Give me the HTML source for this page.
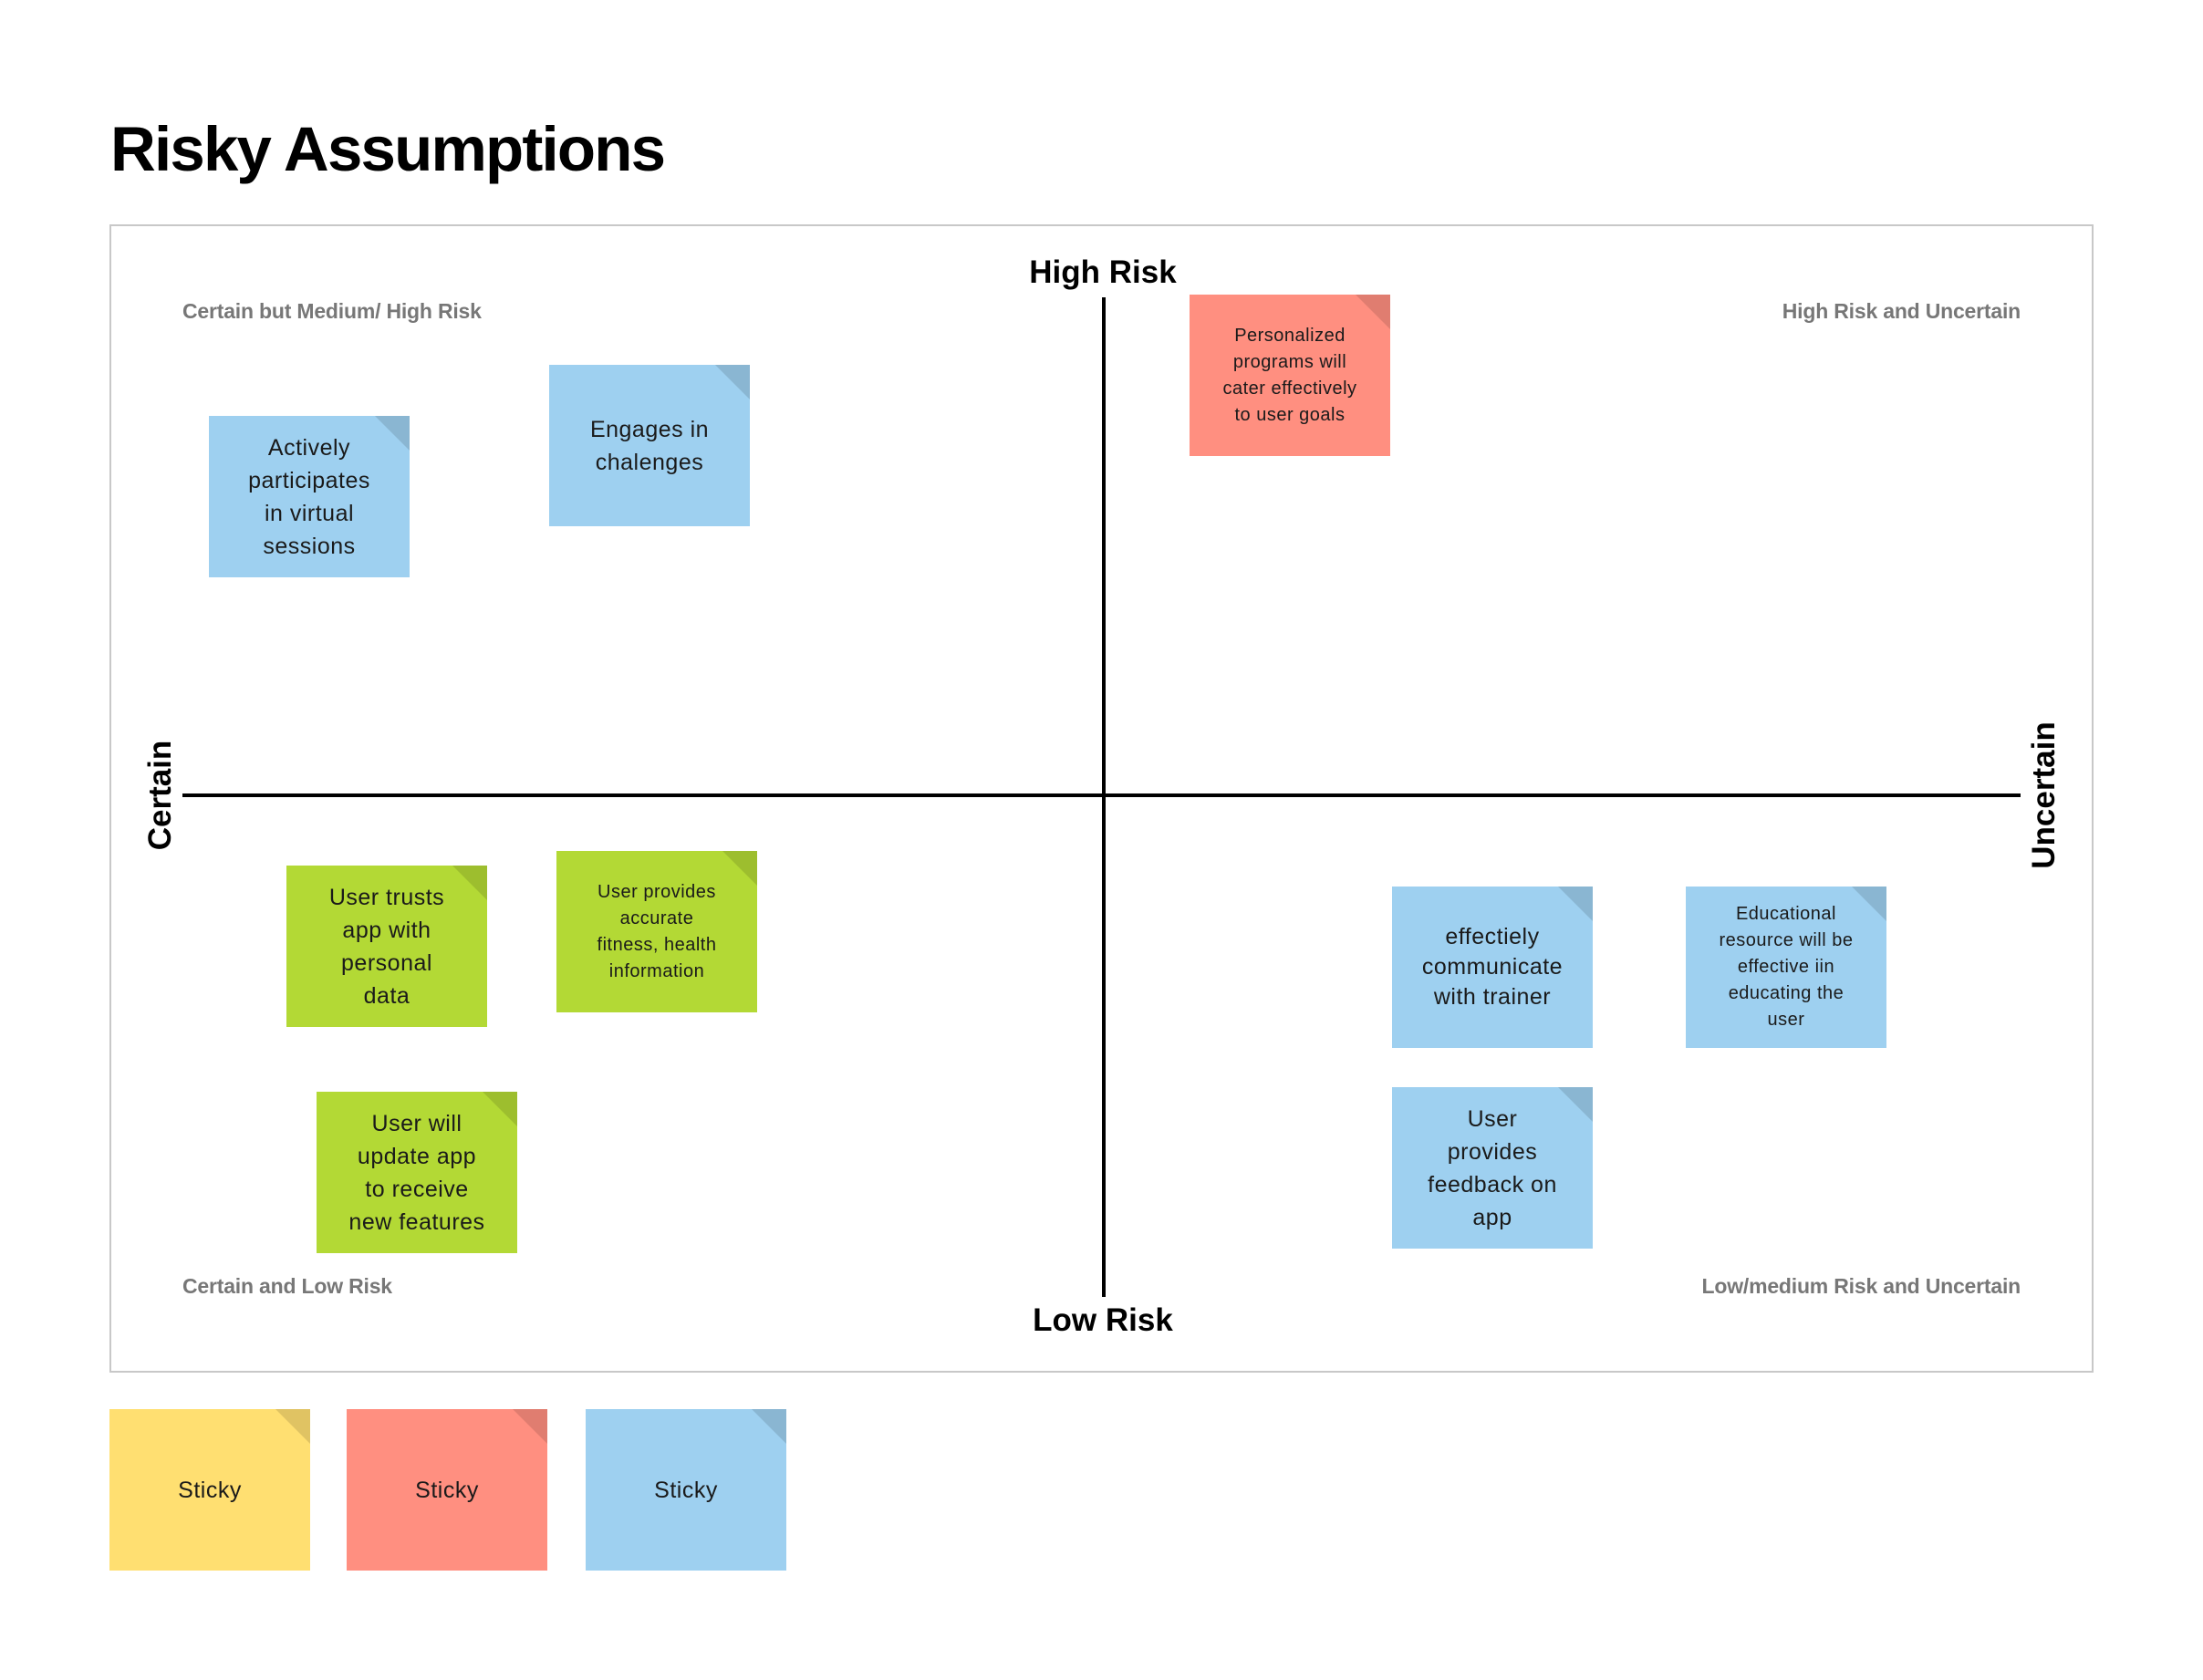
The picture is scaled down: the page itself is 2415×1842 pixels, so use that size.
<!DOCTYPE html>
<html><head><meta charset="utf-8"><style>
body{margin:0;width:2415px;height:1842px;background:#fff;position:relative;font-family:"Liberation Sans",sans-serif;overflow:hidden}
.a{position:absolute}
h1{position:absolute;left:121px;top:124px;margin:0;font-size:69px;font-weight:bold;letter-spacing:-1.8px;color:#000}
.frame{left:120px;top:246px;width:2171px;height:1255px;border:2px solid #c8c8c8}
.lbl{font-size:23px;color:#777;font-weight:bold;letter-spacing:-0.2px}
.ax{font-size:35px;font-weight:bold;color:#000;white-space:nowrap}
.s{position:absolute;width:220px;height:177px;display:flex;align-items:center;justify-content:center;text-align:center;font-size:25px;line-height:36px;color:#1a1a1a;letter-spacing:0.5px;box-sizing:border-box;padding:0 4px;white-space:nowrap}
.s::after{content:"";position:absolute;right:0;top:0;border-style:solid;border-width:0 38px 38px 0;border-color:transparent rgba(0,0,0,0.12) transparent transparent}
.sm{font-size:20px;line-height:29px}
.b{background:#9ed0f0}.r{background:#ff8f80}.g{background:#b3d935}.y{background:#ffdf71}
</style></head><body>
<h1>Risky Assumptions</h1>
<div class="a frame"></div>
<div class="a" style="left:1208px;top:326px;width:4px;height:1096px;background:#000"></div>
<div class="a" style="left:200px;top:870px;width:2015px;height:4px;background:#000"></div>
<div class="a ax" style="left:1109px;top:279px;width:200px;text-align:center">High Risk</div>
<div class="a ax" style="left:1109px;top:1428px;width:200px;text-align:center">Low Risk</div>
<div class="a ax" style="left:76px;top:852px;width:200px;text-align:center;transform:rotate(-90deg)">Certain</div>
<div class="a ax" style="left:2141px;top:852px;width:200px;text-align:center;transform:rotate(-90deg)">Uncertain</div>
<div class="a lbl" style="left:200px;top:328px">Certain but Medium/ High Risk</div>
<div class="a lbl" style="right:200px;top:328px">High Risk and Uncertain</div>
<div class="a lbl" style="left:200px;top:1397px">Certain and Low Risk</div>
<div class="a lbl" style="right:200px;top:1397px">Low/medium Risk and Uncertain</div>

<div class="s b" style="left:229px;top:456px">Actively<br>participates<br>in virtual<br>sessions</div>
<div class="s b" style="left:602px;top:400px">Engages in<br>chalenges</div>
<div class="s r sm" style="left:1304px;top:323px">Personalized<br>programs will<br>cater effectively<br>to user goals</div>
<div class="s g" style="left:314px;top:949px">User trusts<br>app with<br>personal<br>data</div>
<div class="s g sm" style="left:610px;top:933px">User provides<br>accurate<br>fitness, health<br>information</div>
<div class="s g" style="left:347px;top:1197px">User will<br>update app<br>to receive<br>new features</div>
<div class="s b" style="left:1526px;top:972px;line-height:33px">effectiely<br>communicate<br>with trainer</div>
<div class="s b sm" style="left:1848px;top:972px">Educational<br>resource will be<br>effective iin<br>educating the<br>user</div>
<div class="s b" style="left:1526px;top:1192px">User<br>provides<br>feedback on<br>app</div>

<div class="s y" style="left:120px;top:1545px">Sticky</div>
<div class="s r" style="left:380px;top:1545px">Sticky</div>
<div class="s b" style="left:642px;top:1545px">Sticky</div>
</body></html>
